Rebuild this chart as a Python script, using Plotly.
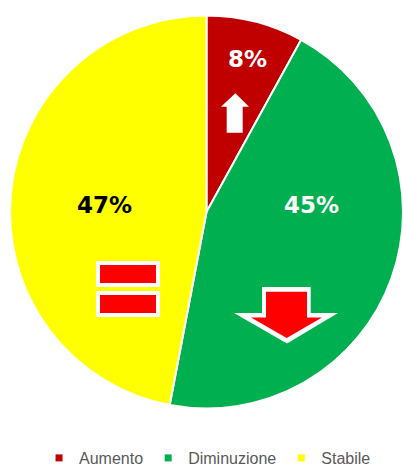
import plotly.graph_objects as go

categories = ["Aumento", "Diminuzione", "Stabile"]
values = [8, 45, 47]
colors = ["#C00000", "#00B050", "#FFFF00"]
label_colors = ["white", "white", "black"]
# label centres in pixel coords (x, y)
label_pos = [(247.5, 58.5), (311, 204.5), (104, 205)]

W, H = 403, 466


def px(x):
    return x / W


def py(y):
    return 1 - y / H


def path(points):
    return "M " + " L ".join(f"{px(x):.5f},{py(y):.5f}" for x, y in points) + " Z"


fig = go.Figure()
fig.add_trace(go.Pie(
    labels=categories, values=values, sort=False, direction="clockwise",
    rotation=0, marker=dict(colors=colors, line=dict(color="white", width=2)),
    textinfo="none", hoverinfo="label+percent", showlegend=False,
    domain=dict(x=[10 / W, 1.0], y=[py(409), py(15)]),
))

for name, c in zip(categories, colors):
    fig.add_trace(go.Scatter(x=[None], y=[None], mode="markers", name=name,
                             marker=dict(symbol="square", size=7, color=c)))

total = sum(values)
for v, (x, y), tc in zip(values, label_pos, label_colors):
    fig.add_annotation(x=px(x), y=py(y), xref="paper", yref="paper",
                       text=f"{round(v / total * 100)}%", showarrow=False,
                       font=dict(family="DejaVu Sans", size=23, color=tc, weight="bold"),
                       xanchor="center", yanchor="middle")

shapes = []
# white up arrow (Aumento)
shapes.append(dict(type="path", xref="paper", yref="paper", line=dict(width=0),
                   fillcolor="white",
                   path=path([(235.3, 93.3), (249, 106.7), (242.7, 106.7), (242.7, 132.7),
                              (226.7, 132.7), (226.7, 106.7), (221, 106.7)])))
# down arrow (Diminuzione): white outline then red fill
shapes.append(dict(type="path", xref="paper", yref="paper", line=dict(width=0),
                   fillcolor="white",
                   path=path([(262, 287), (310.7, 287), (310.7, 313), (338, 313),
                              (287, 343.5), (234, 313), (262, 313)])))
shapes.append(dict(type="path", xref="paper", yref="paper", line=dict(width=0),
                   fillcolor="#FF0000",
                   path=path([(266, 291.7), (307, 291.7), (307, 317.5), (322, 317.5),
                              (286.7, 338), (251, 317.5), (266, 317.5)])))
# equal sign (Stabile)
for (y0, y1) in [(261, 287), (291, 317)]:
    shapes.append(dict(type="rect", xref="paper", yref="paper", line=dict(width=0),
                       fillcolor="white", x0=px(96), x1=px(160), y0=py(y1), y1=py(y0)))
    shapes.append(dict(type="rect", xref="paper", yref="paper", line=dict(width=0),
                       fillcolor="#FF0000", x0=px(100), x1=px(156), y0=py(y1 - 4), y1=py(y0 + 4)))

fig.update_layout(
    width=W, height=H, margin=dict(l=0, r=0, t=0, b=0, autoexpand=False),
    paper_bgcolor="white", plot_bgcolor="white",
    shapes=shapes,
    xaxis=dict(visible=False), yaxis=dict(visible=False),
    legend=dict(orientation="h", x=0.515, xanchor="center", y=py(441), yanchor="top",
                font=dict(family="Liberation Sans", size=16, color="#595959"),
                itemwidth=30, traceorder="normal"),
)

fig.write_html("out.html")
